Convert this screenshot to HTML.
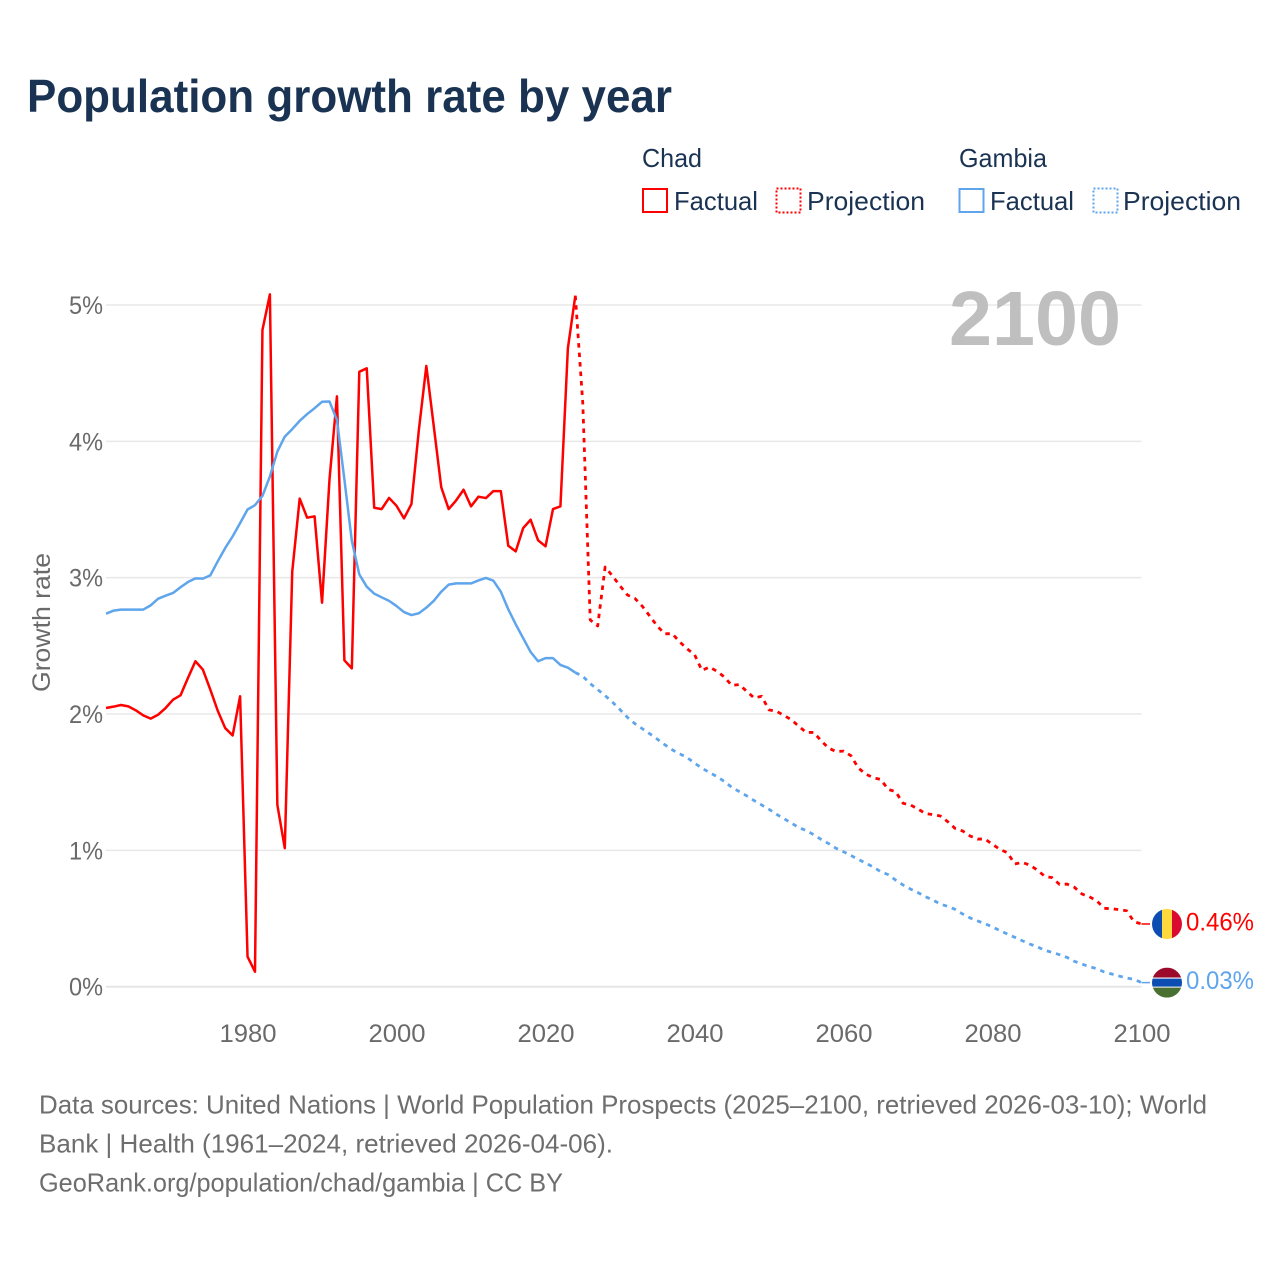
<!DOCTYPE html>
<html lang="en">
<head>
<meta charset="utf-8">
<title>Population growth rate by year</title>
<style>
html,body{margin:0;padding:0;background:#fff;width:1280px;height:1280px;overflow:hidden}
svg{display:block}
text{font-family:"Liberation Sans",sans-serif}
</style>
</head>
<body>
<svg id="chart" width="1280" height="1280" viewBox="0 0 1280 1280" xmlns="http://www.w3.org/2000/svg">
  <defs>
    <clipPath id="flag-clip"><circle cx="0" cy="0" r="15"/></clipPath>
  </defs>
  <rect width="1280" height="1280" fill="#ffffff"/>
  <text x="27" y="112" font-size="46" font-weight="700" fill="#1a3353" textLength="645" lengthAdjust="spacingAndGlyphs">Population growth rate by year</text>

  <g font-size="26" fill="#1a3353">
    <text x="642" y="167" textLength="60" lengthAdjust="spacingAndGlyphs">Chad</text>
    <text x="959" y="167" textLength="88" lengthAdjust="spacingAndGlyphs">Gambia</text>
    <g>
      <rect x="643" y="189" width="24" height="23" fill="none" stroke="#ff0000" stroke-width="2"/>
      <text x="674" y="210" textLength="84" lengthAdjust="spacingAndGlyphs">Factual</text>
    </g>
    <g>
      <rect x="776.5" y="188.5" width="24" height="24" fill="none" stroke="#ff0000" stroke-width="2" stroke-dasharray="2 2"/>
      <text x="807" y="210" textLength="118" lengthAdjust="spacingAndGlyphs">Projection</text>
    </g>
    <g>
      <rect x="959.5" y="189" width="24" height="23" fill="none" stroke="#5fa5ec" stroke-width="2"/>
      <text x="990" y="210" textLength="84" lengthAdjust="spacingAndGlyphs">Factual</text>
    </g>
    <g>
      <rect x="1093.5" y="188.5" width="24" height="24" fill="none" stroke="#5fa5ec" stroke-width="2" stroke-dasharray="2 2"/>
      <text x="1123" y="210" textLength="118" lengthAdjust="spacingAndGlyphs">Projection</text>
    </g>
  </g>

  <g id="grid"></g>
  <g id="ticks-y"></g>
  <g id="ticks-x"></g>
  <text transform="translate(50 622.5) rotate(-90)" text-anchor="middle" font-size="25" fill="#6a6a6a" textLength="139" lengthAdjust="spacingAndGlyphs">Growth rate</text>
  <text x="1121" y="345" text-anchor="end" font-size="77" font-weight="700" fill="#bfbfbf" textLength="172" lengthAdjust="spacingAndGlyphs">2100</text>

  <g id="series"></g>

  <g id="flag-chad">
    <g clip-path="url(#flag-clip)">
      <rect x="-15" y="-15" width="10" height="30" fill="#0b4db0"/>
      <rect x="-5" y="-15" width="10" height="30" fill="#ffd83d"/>
      <rect x="5" y="-15" width="10" height="30" fill="#db0a2f"/>
    </g>
  </g>
  <g id="flag-gambia">
    <g clip-path="url(#flag-clip)">
      <rect x="-15" y="-15" width="30" height="10" fill="#9c0a2b"/>
      <rect x="-15" y="-5" width="30" height="10" fill="#ffffff"/>
      <rect x="-15" y="-4" width="30" height="8" fill="#0b4db0"/>
      <rect x="-15" y="5" width="30" height="10" fill="#4a7031"/>
    </g>
  </g>
  <text id="end-label-chad" x="1186" font-size="25" fill="#ff0000" textLength="68" lengthAdjust="spacingAndGlyphs"></text>
  <text id="end-label-gambia" x="1186" font-size="25" fill="#5fa5ec" textLength="68" lengthAdjust="spacingAndGlyphs"></text>

  <g font-size="26" fill="#6e6e6e">
    <text x="39" y="1113.5" textLength="1168" lengthAdjust="spacingAndGlyphs">Data sources: United Nations | World Population Prospects (2025–2100, retrieved 2026-03-10); World</text>
    <text x="39" y="1152.5" textLength="574" lengthAdjust="spacingAndGlyphs">Bank | Health (1961–2024, retrieved 2026-04-06).</text>
    <text x="39" y="1191.5" textLength="524" lengthAdjust="spacingAndGlyphs">GeoRank.org/population/chad/gambia | CC BY</text>
  </g>
</svg>
<script>
const factualStartYear = 1961;
const projectionStartYear = 2024;
const yTickValues = [0, 1, 2, 3, 4, 5];
const xTickYears = [1980, 2000, 2020, 2040, 2060, 2080, 2100];

const chadFactual = [2.044,2.054,2.066,2.056,2.027,1.99,1.966,1.995,2.044,2.105,2.137,2.264,2.387,2.326,2.179,2.024,1.897,1.843,2.13,0.22,0.11,4.817,5.078,1.334,1.016,3.044,3.58,3.44,3.45,2.817,3.72,4.33,2.394,2.335,4.51,4.536,3.513,3.503,3.585,3.527,3.435,3.54,4.085,4.553,4.11,3.664,3.503,3.567,3.645,3.523,3.594,3.584,3.635,3.635,3.234,3.193,3.364,3.425,3.274,3.23,3.503,3.523,4.683,5.068];
const chadProjection = [5.068,4.28,2.69,2.646,3.078,3.012,2.94,2.873,2.848,2.79,2.718,2.645,2.588,2.59,2.53,2.478,2.436,2.32,2.345,2.314,2.272,2.21,2.216,2.167,2.118,2.13,2.03,2.02,1.99,1.958,1.91,1.865,1.865,1.804,1.75,1.725,1.728,1.694,1.603,1.559,1.533,1.52,1.447,1.43,1.345,1.333,1.303,1.27,1.262,1.252,1.21,1.16,1.142,1.105,1.083,1.083,1.044,1.007,0.983,0.9,0.912,0.892,0.856,0.81,0.8,0.75,0.753,0.729,0.68,0.66,0.63,0.575,0.572,0.565,0.557,0.477,0.46];
const gambiaFactual = [2.736,2.758,2.766,2.766,2.766,2.766,2.797,2.846,2.868,2.888,2.93,2.968,2.995,2.993,3.017,3.12,3.217,3.303,3.4,3.5,3.532,3.6,3.742,3.925,4.035,4.09,4.15,4.2,4.243,4.29,4.292,4.157,3.72,3.27,3.024,2.934,2.883,2.856,2.83,2.792,2.748,2.726,2.739,2.78,2.83,2.897,2.949,2.958,2.958,2.958,2.98,2.998,2.978,2.897,2.768,2.658,2.556,2.455,2.387,2.41,2.41,2.36,2.34,2.304];
const gambiaProjection = [2.304,2.277,2.223,2.179,2.135,2.086,2.032,1.975,1.929,1.892,1.855,1.816,1.775,1.738,1.708,1.681,1.64,1.603,1.571,1.542,1.505,1.463,1.431,1.4,1.365,1.333,1.301,1.265,1.233,1.2,1.167,1.145,1.115,1.08,1.05,1.015,0.99,0.962,0.934,0.905,0.878,0.843,0.822,0.782,0.746,0.716,0.69,0.66,0.636,0.606,0.589,0.567,0.533,0.504,0.482,0.462,0.438,0.411,0.386,0.362,0.337,0.313,0.293,0.267,0.252,0.235,0.215,0.186,0.166,0.147,0.132,0.108,0.093,0.078,0.064,0.054,0.03];

const NS = 'http://www.w3.org/2000/svg';
const X0 = 106, X1 = 1141.5, YEAR0 = 1961, YEAR1 = 2100, Y0 = 986.7, PER_PCT = 136.34;
const RED = '#ff0000', BLUE = '#5fa5ec';

function xAt(year) { return X0 + (year - YEAR0) * (X1 - X0) / (YEAR1 - YEAR0); }
function yAt(v) { return Y0 - v * PER_PCT; }
function byId(id) { return document.getElementById(id); }

function linePath(values, startYear) {
  return values.map(function (v, i) {
    return (i ? 'L' : 'M') + xAt(startYear + i).toFixed(2) + ' ' + yAt(v).toFixed(2);
  }).join(' ');
}

yTickValues.forEach(function (v) {
  const line = document.createElementNS(NS, 'line');
  
  
  line.setAttribute('x1', X0);
  line.setAttribute('x2', X1);
  line.setAttribute('y1', yAt(v));
  line.setAttribute('y2', yAt(v));
  line.setAttribute('stroke', v === 0 ? '#e6e6e6' : '#e8e8e8');
  line.setAttribute('stroke-width', v === 0 ? 2 : 1.5);
  byId('grid').appendChild(line);

  const label = document.createElementNS(NS, 'text');
  
  
  label.setAttribute('x', 103);
  label.setAttribute('y', yAt(v) + 9);
  label.setAttribute('text-anchor', 'end');
  label.setAttribute('font-size', 25);
  label.setAttribute('fill', '#6a6a6a');
  label.setAttribute('textLength', 34);
  label.setAttribute('lengthAdjust', 'spacingAndGlyphs');
  label.textContent = v + '%';
  byId('ticks-y').appendChild(label);
});

xTickYears.forEach(function (year) {
  const label = document.createElementNS(NS, 'text');
  
  
  label.setAttribute('x', xAt(year) + 0.5);
  label.setAttribute('y', 1042);
  label.setAttribute('text-anchor', 'middle');
  label.setAttribute('font-size', 25);
  label.setAttribute('fill', '#6a6a6a');
  label.setAttribute('textLength', 57);
  label.setAttribute('lengthAdjust', 'spacingAndGlyphs');
  label.textContent = String(year);
  byId('ticks-x').appendChild(label);
});

function addLine(name, values, startYear, colour, dashed) {
  const path = document.createElementNS(NS, 'path');
  
  
  path.setAttribute('d', linePath(values, startYear));
  path.setAttribute('fill', 'none');
  path.setAttribute('stroke', colour);
  path.setAttribute('stroke-width', dashed ? 2.8 : 2.5);
  path.setAttribute('stroke-linejoin', 'round');
  if (dashed) { path.setAttribute('stroke-dasharray', '4.5 5'); }
  byId('series').appendChild(path);
}

addLine('chad-factual-line', chadFactual, factualStartYear, RED, false);
addLine('chad-projection-line', chadProjection, projectionStartYear, RED, true);
addLine('gambia-factual-line', gambiaFactual, factualStartYear, BLUE, false);
addLine('gambia-projection-line', gambiaProjection, projectionStartYear, BLUE, true);

function addEnd(name, values, colour, flagId, labelId) {
  const last = values[values.length - 1];
  const yy = yAt(last);
  const tail = document.createElementNS(NS, 'line');
  
  
  tail.setAttribute('x1', X1);
  tail.setAttribute('x2', 1150);
  tail.setAttribute('y1', yy);
  tail.setAttribute('y2', yy);
  tail.setAttribute('stroke', colour);
  tail.setAttribute('stroke-width', 1.5);
  byId('series').appendChild(tail);
  byId(flagId).setAttribute('transform', 'translate(1167 ' + yy.toFixed(2) + ')');
  const label = byId(labelId);
  label.setAttribute('y', (yy + 6.5).toFixed(2));
  label.textContent = last.toFixed(2) + '%';
}

addEnd('chad-end', chadProjection, RED, 'flag-chad', 'end-label-chad');
addEnd('gambia-end', gambiaProjection, BLUE, 'flag-gambia', 'end-label-gambia');
</script>
</body>
</html>
